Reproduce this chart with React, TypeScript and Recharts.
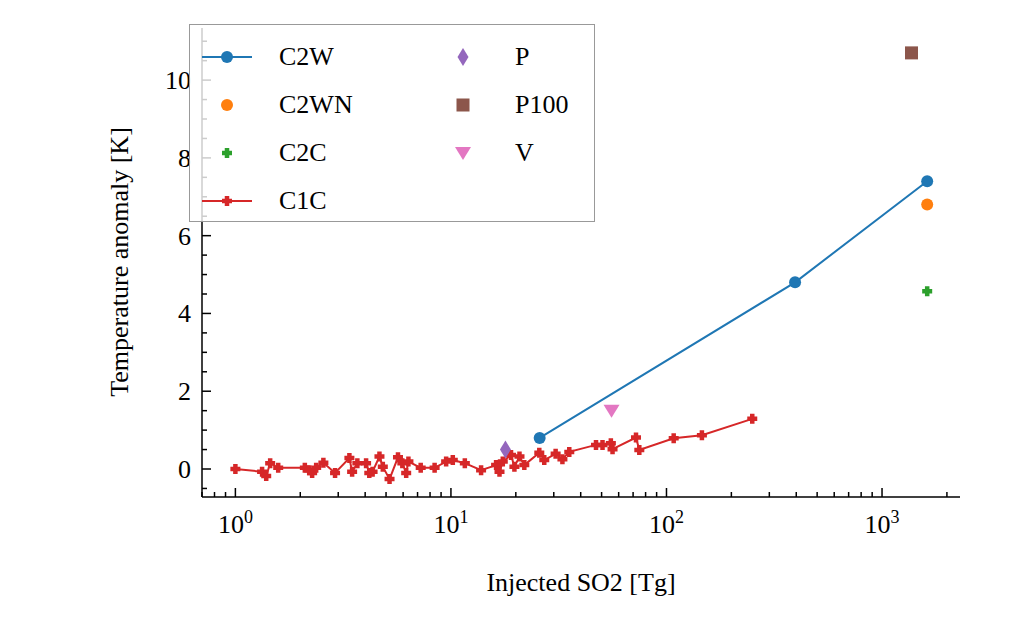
import React from 'react';
import { ScatterChart, Scatter, XAxis, YAxis } from 'recharts';

const c1cX = [1.0,1.33,1.39,1.45,1.58,2.1,2.2,2.27,2.37,2.56,2.9,3.38,3.48,3.68,4.04,4.18,4.33,4.66,4.83,5.19,5.68,5.95,6.2,6.35,7.24,8.4,9.5,10.2,11.6,13.8,16.2,16.8,17.4,19.0,19.7,20.8,21.9,25.7,27.1,30.6,32.9,35.4,47.1,50.5,55.2,56.2,72.2,74.8,108,146,250];
const c1cY = [0.0,-0.07,-0.18,0.15,0.03,0.03,-0.03,-0.1,0.03,0.16,-0.1,0.28,-0.07,0.15,0.15,-0.1,-0.07,0.32,0.06,-0.26,0.3,0.15,-0.1,0.19,0.03,0.03,0.19,0.23,0.15,-0.03,0.1,-0.07,0.19,0.36,0.06,0.32,0.1,0.42,0.23,0.39,0.25,0.44,0.62,0.62,0.66,0.51,0.81,0.49,0.79,0.87,1.29];
const c2wX = [25.8, 395, 1620];
const c2wY = [0.8, 4.8, 7.4];
const c2wnX = [1620]; const c2wnY = [6.8];
const c2cX = [1620]; const c2cY = [4.57];
const pX = [17.9]; const pY = [0.5];
const p100X = [1370]; const p100Y = [10.7];
const vX = [55.6]; const vY = [1.5];

const mk = (xs: number[], ys: number[]) => xs.map((x, i) => ({ x, y: ys[i] }));

const xTicks: number[] = [];
[0.1, 1, 10, 100, 1000].forEach(d => { for (let k = 1; k <= 9; k++) { const v = +(k * d).toPrecision(3); if (v >= 0.7 && v <= 2300) xTicks.push(v); } });
const xMajors = [1, 10, 100, 1000];
const yTicks: number[] = [];
for (let v = -0.5; v <= 11; v += 0.5) yTicks.push(v);
const yMajors = [0, 2, 4, 6, 8, 10];

const BLUE = '#1f77b4', ORANGE = '#ff7f0e', GREEN = '#2ca02c', RED = '#d62728', PURPLE = '#9467bd', BROWN = '#8c564b', PINK = '#e377c2';
const FONT = 'Liberation Serif, DejaVu Serif, serif';

const plusPath = (cx: number, cy: number, r: number) => {
  const a = r * 0.45;
  return `M${cx - a},${cy - r}L${cx + a},${cy - r}L${cx + a},${cy - a}L${cx + r},${cy - a}L${cx + r},${cy + a}L${cx + a},${cy + a}L${cx + a},${cy + r}L${cx - a},${cy + r}L${cx - a},${cy + a}L${cx - r},${cy + a}L${cx - r},${cy - a}L${cx - a},${cy - a}Z`;
};
const Circle = (color: string, r = 6) => (p: any) => <circle cx={p.cx} cy={p.cy} r={r} fill={color} />;
const Plus = (color: string) => (p: any) => <path d={plusPath(p.cx, p.cy, 5)} fill={color} />;
const Diamond = (p: any) => <path d={`M${p.cx},${p.cy - 9}L${p.cx + 5.5},${p.cy}L${p.cx},${p.cy + 9}L${p.cx - 5.5},${p.cy}Z`} fill={PURPLE} />;
const Square = (p: any) => <rect x={p.cx - 6.5} y={p.cy - 6.5} width={13} height={13} fill={BROWN} />;
const Tri = (p: any) => <path d={`M${p.cx - 8},${p.cy - 6}L${p.cx + 8},${p.cy - 6}L${p.cx},${p.cy + 7}Z`} fill={PINK} />;
const Hidden = () => <g />;

const XTick = (dir: number, label: boolean) => (p: any) => {
  const v = p.payload.value;
  const major = xMajors.includes(v);
  const len = major ? 9 : 5;
  const exp = Math.round(Math.log10(v));
  return (
    <g>
      <line x1={p.x} x2={p.x} y1={p.y} y2={p.y + dir * len} stroke="#000" strokeWidth={1.5} />
      {label && major && (
        <text x={p.x} y={p.y + 36} textAnchor="middle" fontFamily={FONT} fontSize={26} fill="#000">
          10<tspan dy={-10} fontSize={18}>{exp}</tspan>
        </text>
      )}
    </g>
  );
};
const YTick = (dir: number, label: boolean) => (p: any) => {
  const v = p.payload.value;
  const major = yMajors.includes(v);
  const len = major ? 9 : 5;
  return (
    <g>
      <line x1={p.x} x2={p.x + dir * len} y1={p.y} y2={p.y} stroke="#000" strokeWidth={1.5} />
      {label && major && (
        <text x={p.x - 11} y={p.y + 9} textAnchor="end" fontFamily={FONT} fontSize={26} fill="#000">{v}</text>
      )}
    </g>
  );
};

const legendRows1 = [
  { name: 'C2W', kind: 'c2w' }, { name: 'C2WN', kind: 'c2wn' }, { name: 'C2C', kind: 'c2c' }, { name: 'C1C', kind: 'c1c' },
];
const legendRows2 = [{ name: 'P', kind: 'p' }, { name: 'P100', kind: 'p100' }, { name: 'V', kind: 'v' }];

const LegendMarker = ({ kind }: { kind: string }) => {
  const cx = 25, cy = 12;
  return (
    <svg width={50} height={24} style={{ display: 'block' }}>
      {kind === 'c2w' && <line x1={0} x2={50} y1={cy} y2={cy} stroke={BLUE} strokeWidth={2} />}
      {kind === 'c1c' && <line x1={0} x2={50} y1={cy} y2={cy} stroke={RED} strokeWidth={2} />}
      {kind === 'c2w' && Circle(BLUE)({ cx, cy })}
      {kind === 'c2wn' && Circle(ORANGE)({ cx, cy })}
      {kind === 'c2c' && Plus(GREEN)({ cx, cy })}
      {kind === 'c1c' && Plus(RED)({ cx, cy })}
      {kind === 'p' && Diamond({ cx, cy })}
      {kind === 'p100' && Square({ cx, cy })}
      {kind === 'v' && Tri({ cx, cy })}
    </svg>
  );
};

export default function App() {
  return (
    <div style={{ position: 'relative', width: 1003, height: 616, fontFamily: FONT }}>
      <ScatterChart width={1003} height={616} margin={{ top: 20, right: 51, bottom: 57, left: 134 }}>
        <XAxis dataKey="x" type="number" scale="log" domain={[0.7, 2300]} allowDataOverflow ticks={xTicks} interval={0}
          tickLine={false} tickSize={0} tickMargin={0} height={70} axisLine={{ stroke: '#000', strokeWidth: 1.5 }} tick={XTick(-1, true)} />
        <XAxis xAxisId="top" orientation="top" dataKey="x" type="number" scale="log" domain={[0.7, 2300]} allowDataOverflow ticks={xTicks} interval={0}
          tickLine={false} tickSize={0} tickMargin={0} height={0} axisLine={{ stroke: '#000', strokeWidth: 1.5 }} tick={XTick(1, false)} />
        <YAxis dataKey="y" type="number" domain={[-0.72, 11.34]} allowDataOverflow ticks={yTicks} interval={0}
          tickLine={false} tickSize={0} tickMargin={0} width={60} axisLine={{ stroke: '#000', strokeWidth: 1.5 }} tick={YTick(1, true)} />
        <YAxis yAxisId="right" orientation="right" dataKey="y" type="number" domain={[-0.72, 11.34]} allowDataOverflow ticks={yTicks} interval={0}
          tickLine={false} tickSize={0} tickMargin={0} width={0} axisLine={{ stroke: '#000', strokeWidth: 1.5 }} tick={YTick(-1, false)} />
        <Scatter xAxisId="top" yAxisId="right" data={mk(c1cX, c1cY)} shape={Hidden} isAnimationActive={false} />
        <Scatter data={mk(c1cX, c1cY)} line={{ stroke: RED, strokeWidth: 2 }} lineType="joint" shape={Plus(RED)} isAnimationActive={false} />
        <Scatter data={mk(c2wX, c2wY)} line={{ stroke: BLUE, strokeWidth: 2 }} lineType="joint" shape={Circle(BLUE)} isAnimationActive={false} />
        <Scatter data={mk(c2wnX, c2wnY)} shape={Circle(ORANGE)} isAnimationActive={false} />
        <Scatter data={mk(c2cX, c2cY)} shape={Plus(GREEN)} isAnimationActive={false} />
        <Scatter data={mk(pX, pY)} shape={Diamond} isAnimationActive={false} />
        <Scatter data={mk(p100X, p100Y)} shape={Square} isAnimationActive={false} />
        <Scatter data={mk(vX, vY)} shape={Tri} isAnimationActive={false} />
        <text x={573} y={583} textAnchor="middle" fontFamily={FONT} fontSize={26} fill="#000">Injected SO2 [Tg]</text>
        <text x={0} y={0} transform="translate(120,254) rotate(-90)" textAnchor="middle" fontFamily={FONT} fontSize={26} fill="#000">Temperature anomaly [K]</text>
      </ScatterChart>
      <div style={{ position: 'absolute', left: 181, top: 16, width: 406, height: 198, border: '1.5px solid #999', background: 'rgba(255,255,255,0.8)', boxSizing: 'border-box', fontSize: 26 }}>
        <div style={{ position: 'absolute', left: 12, top: 8 }}>
          {legendRows1.map(r => (
            <div key={r.name} style={{ display: 'flex', alignItems: 'center', height: 48 }}>
              <LegendMarker kind={r.kind} /><span style={{ marginLeft: 27 }}>{r.name}</span>
            </div>
          ))}
        </div>
        <div style={{ position: 'absolute', left: 248, top: 8 }}>
          {legendRows2.map(r => (
            <div key={r.name} style={{ display: 'flex', alignItems: 'center', height: 48 }}>
              <LegendMarker kind={r.kind} /><span style={{ marginLeft: 27 }}>{r.name}</span>
            </div>
          ))}
        </div>
      </div>
    </div>
  );
}
